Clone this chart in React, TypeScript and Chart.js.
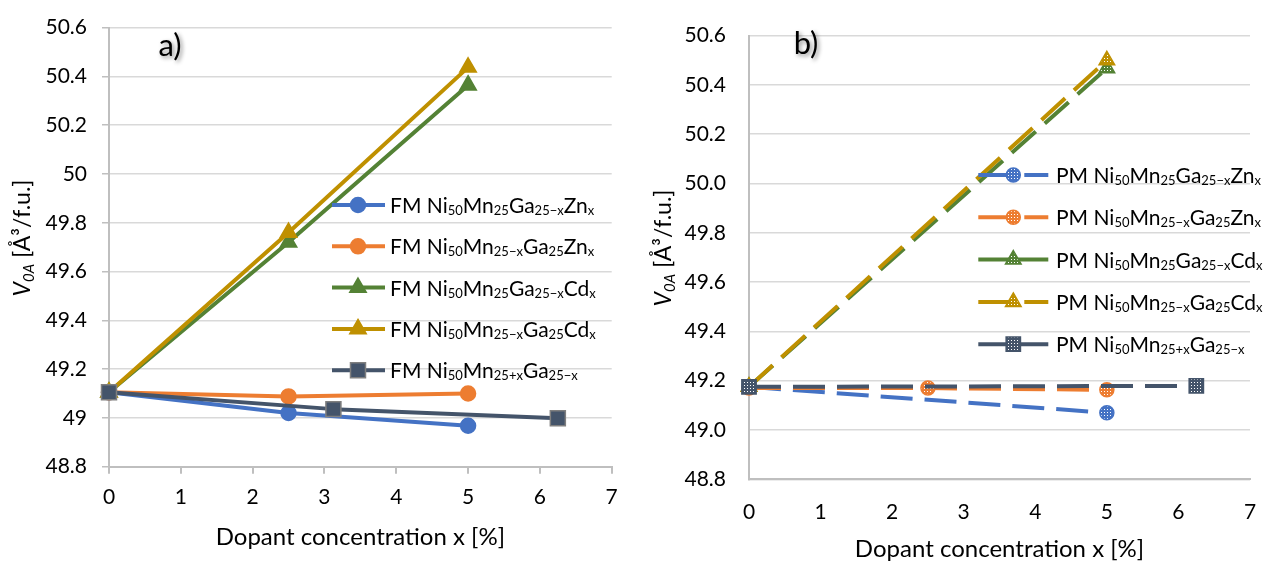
import React, { useEffect, useRef } from "react";
import { Chart, registerables } from "chart.js";
import { drawPoint } from "chart.js/helpers";

Chart.register(...registerables);

const FONT = "Lato";

// ---- axes ----
const X_TICKS = [0, 1, 2, 3, 4, 5, 6, 7];
const X_TICK_LABELS = ["0", "1", "2", "3", "4", "5", "6", "7"];
const Y_TICKS = [48.8, 49.0, 49.2, 49.4, 49.6, 49.8, 50.0, 50.2, 50.4, 50.6];
const Y_TICK_LABELS_FM = ["48.8", "49", "49.2", "49.4", "49.6", "49.8", "50", "50.2", "50.4", "50.6"];
const Y_TICK_LABELS_PM = ["48.8", "49.0", "49.2", "49.4", "49.6", "49.8", "50.0", "50.2", "50.4", "50.6"];
const X_TITLE = "Dopant concentration x [%]";

// ---- ferromagnetic (FM) series ----
const FM_LABELS = [
  "FM Ni_{50}Mn_{25}Ga_{25−x}Zn_{x}",
  "FM Ni_{50}Mn_{25−x}Ga_{25}Zn_{x}",
  "FM Ni_{50}Mn_{25}Ga_{25−x}Cd_{x}",
  "FM Ni_{50}Mn_{25−x}Ga_{25}Cd_{x}",
  "FM Ni_{50}Mn_{25+x}Ga_{25−x}",
];
const FM_GA_ZN_X = [0, 2.5, 5];
const FM_GA_ZN_V = [49.105, 49.02, 48.968];
const FM_MN_ZN_X = [0, 2.5, 5];
const FM_MN_ZN_V = [49.105, 49.088, 49.1];
const FM_GA_CD_X = [0, 2.5, 5];
const FM_GA_CD_V = [49.105, 49.72, 50.364];
const FM_MN_CD_X = [0, 2.5, 5];
const FM_MN_CD_V = [49.105, 49.76, 50.437];
const FM_MN_GA_X = [0, 3.125, 6.25];
const FM_MN_GA_V = [49.105, 49.036, 48.999];

// ---- paramagnetic (PM) series ----
const PM_LABELS = [
  "PM Ni_{50}Mn_{25}Ga_{25−x}Zn_{x}",
  "PM Ni_{50}Mn_{25−x}Ga_{25}Zn_{x}",
  "PM Ni_{50}Mn_{25}Ga_{25−x}Cd_{x}",
  "PM Ni_{50}Mn_{25−x}Ga_{25}Cd_{x}",
  "PM Ni_{50}Mn_{25+x}Ga_{25−x}",
];
const PM_GA_ZN_X = [0, 5];
const PM_GA_ZN_V = [49.175, 49.07];
const PM_MN_ZN_X = [0, 2.5, 5];
const PM_MN_ZN_V = [49.17, 49.17, 49.163];
const PM_GA_CD_X = [0, 5];
const PM_GA_CD_V = [49.175, 50.468];
const PM_MN_CD_X = [0, 5];
const PM_MN_CD_V = [49.175, 50.5];
const PM_MN_GA_X = [0, 6.25];
const PM_MN_GA_V = [49.175, 49.179];

const COLORS = ["#4472C4", "#ED7D31", "#548235", "#BF9000", "#44546A"];
const POINT_STYLES = ["circle", "circle", "triangle", "triangle", "rect"];
const POINT_RADII = [7.5, 7.5, 9.5, 9.5, 10.6];

type Part = { t: string; sub?: boolean; it?: boolean };

function parseRich(s: string): Part[] {
  const parts: Part[] = [];
  const re = /_\{([^}]*)\}/g;
  let last = 0;
  let m: RegExpExecArray | null;
  while ((m = re.exec(s))) {
    if (m.index > last) parts.push({ t: s.slice(last, m.index) });
    parts.push({ t: m[1], sub: true });
    last = re.lastIndex;
  }
  if (last < s.length) parts.push({ t: s.slice(last) });
  return parts;
}

function partFont(p: Part, size: number, subSize: number) {
  return `${p.it ? "italic " : ""}${p.sub ? subSize : size}px ${FONT}`;
}

function measureRich(ctx: CanvasRenderingContext2D, parts: Part[], size: number, subSize: number) {
  let w = 0;
  for (const p of parts) {
    ctx.font = partFont(p, size, subSize);
    w += ctx.measureText(p.t).width;
  }
  return w;
}

function drawRich(
  ctx: CanvasRenderingContext2D,
  parts: Part[],
  x: number,
  y: number,
  size: number,
  subSize: number,
  subDy: number
) {
  let cx = x;
  ctx.textAlign = "left";
  ctx.textBaseline = "alphabetic";
  for (const p of parts) {
    ctx.font = partFont(p, size, subSize);
    ctx.fillText(p.t, cx, p.sub ? y + subDy : y);
    cx += ctx.measureText(p.t).width;
  }
}

// small white-dot fill used for the PM markers
function dotPattern(color: string): CanvasPattern | string {
  const c = document.createElement("canvas");
  c.width = 3;
  c.height = 3;
  const g = c.getContext("2d");
  if (!g) return color;
  g.fillStyle = color;
  g.fillRect(0, 0, 3, 3);
  g.fillStyle = "#ffffff";
  g.fillRect(1, 1, 1, 1);
  return g.createPattern(c, "repeat") || color;
}

function makeDatasets(xs: number[][], vs: number[][], labels: string[], pm: boolean) {
  return xs.map((xArr, i) => ({
    label: labels[i],
    data: xArr.map((x, j) => ({ x, y: vs[i][j] })),
    borderColor: COLORS[i],
    backgroundColor: COLORS[i],
    borderWidth: 4,
    borderDash: pm ? [32, 12] : [],
    borderJoinStyle: "round",
    pointStyle: POINT_STYLES[i],
    pointRadius: pm ? POINT_RADII[i] - 0.5 : POINT_RADII[i],
    pointHoverRadius: POINT_RADII[i],
    pointBackgroundColor: pm ? dotPattern(COLORS[i]) : COLORS[i],
    pointBorderColor: !pm && i === 4 ? "#7F7F7F" : COLORS[i],
    pointBorderWidth: 1.5,
    order: 5 - i,
    clip: false,
    tension: 0,
  }));
}

const decorPlugin = {
  id: "decor",
  afterDraw(chart: any, _args: any, opts: any) {
    const ctx: CanvasRenderingContext2D = chart.ctx;
    const area = chart.chartArea;
    ctx.save();

    // legend entries: line sample, marker, rich text
    const lg = opts.legend;
    chart.data.datasets.forEach((ds: any, i: number) => {
      const y = lg.y0 + i * lg.dy;
      ctx.save();
      ctx.strokeStyle = ds.borderColor;
      ctx.lineWidth = ds.borderWidth;
      ctx.setLineDash(lg.dashes[i] || []);
      ctx.beginPath();
      ctx.moveTo(lg.x0, y);
      ctx.lineTo(lg.x1, y);
      ctx.stroke();
      ctx.setLineDash([]);
      ctx.fillStyle = ds.pointBackgroundColor;
      ctx.strokeStyle = ds.pointBorderColor;
      ctx.lineWidth = ds.pointBorderWidth;
      drawPoint(
        ctx,
        { pointStyle: ds.pointStyle, radius: ds.pointRadius, borderWidth: ds.pointBorderWidth, rotation: 0 } as any,
        lg.xm,
        y
      );
      ctx.restore();
      ctx.fillStyle = "#000";
      drawRich(ctx, parseRich(ds.label), lg.tx, y + 8, 21, 13, 2);
    });

    // panel tag
    ctx.save();
    ctx.font = `31px ${FONT}`;
    ctx.textAlign = "center";
    ctx.textBaseline = "middle";
    ctx.fillStyle = "#000";
    ctx.shadowColor = "rgba(0,0,0,0.45)";
    ctx.shadowBlur = 4;
    ctx.shadowOffsetX = 2;
    ctx.shadowOffsetY = 2;
    ctx.fillText(opts.tag.text, opts.tag.x, opts.tag.y);
    ctx.restore();

    // x-axis title
    ctx.font = `24px ${FONT}`;
    ctx.textAlign = "center";
    ctx.textBaseline = "middle";
    ctx.fillStyle = "#000";
    ctx.fillText(X_TITLE, (area.left + area.right) / 2, opts.xTitleY);

    // y-axis title with italic subscript
    const parts: Part[] = [
      { t: "V", it: true },
      { t: "0A", it: true, sub: true },
      { t: " [Å³/f.u.]" },
    ];
    const w = measureRich(ctx, parts, 23, 15);
    ctx.save();
    ctx.translate(opts.yTitle.x, opts.yTitle.y);
    ctx.rotate(-Math.PI / 2);
    ctx.fillStyle = "#000";
    drawRich(ctx, parts, -w / 2, 8, 23, 15, 4);
    ctx.restore();

    ctx.restore();
  },
};

type PanelSpec = {
  datasets: any[];
  yLabels: string[];
  drawTicks: boolean;
  padding: { left: number; top: number; right: number; bottom: number };
  yWidth: number;
  xHeight: number;
  yLabelPad: number;
  xLabelPad: number;
  decor: any;
};

function buildConfig(p: PanelSpec): any {
  return {
    type: "line",
    data: { datasets: p.datasets },
    plugins: [decorPlugin],
    options: {
      responsive: false,
      animation: false,
      events: [],
      layout: { padding: p.padding },
      plugins: {
        legend: { display: false },
        tooltip: { enabled: false },
        decor: p.decor,
      },
      scales: {
        x: {
          type: "linear",
          min: 0,
          max: 7,
          afterBuildTicks: (scale: any) => {
            scale.ticks = X_TICKS.map((value) => ({ value }));
          },
          afterFit: (scale: any) => {
            scale.height = p.xHeight;
          },
          ticks: {
            padding: p.xLabelPad,
            maxRotation: 0,
            autoSkip: false,
            color: "#000",
            font: { family: FONT, size: 21 },
            callback: (_v: any, i: number) => X_TICK_LABELS[i],
          },
          grid: {
            display: true,
            drawOnChartArea: false,
            drawTicks: p.drawTicks,
            tickLength: 7,
            color: "#BFBFBF",
            lineWidth: 2,
          },
          border: { display: true, color: "#BFBFBF", width: 2 },
        },
        y: {
          type: "linear",
          min: 48.8,
          max: 50.6,
          afterBuildTicks: (scale: any) => {
            scale.ticks = Y_TICKS.map((value) => ({ value }));
          },
          afterFit: (scale: any) => {
            scale.width = p.yWidth;
          },
          ticks: {
            padding: p.yLabelPad,
            autoSkip: false,
            color: "#000",
            font: { family: FONT, size: 21 },
            callback: (_v: any, i: number) => p.yLabels[i],
          },
          grid: {
            display: true,
            drawOnChartArea: true,
            drawTicks: p.drawTicks,
            tickLength: 7,
            color: "#D9D9D9",
            tickColor: "#BFBFBF",
            lineWidth: 1.5,
          },
          border: { display: true, color: "#BFBFBF", width: 2 },
        },
      },
    },
  };
}

const PANEL_FM: PanelSpec = {
  datasets: makeDatasets(
    [FM_GA_ZN_X, FM_MN_ZN_X, FM_GA_CD_X, FM_MN_CD_X, FM_MN_GA_X],
    [FM_GA_ZN_V, FM_MN_ZN_V, FM_GA_CD_V, FM_MN_CD_V, FM_MN_GA_V],
    FM_LABELS,
    false
  ),
  yLabels: Y_TICK_LABELS_FM,
  drawTicks: true,
  padding: { left: 0, top: 15.7, right: 29.3, bottom: 0 },
  yWidth: 109,
  xHeight: 97.3,
  yLabelPad: 15,
  xLabelPad: 11,
  decor: {
    legend: { x0: 332, x1: 385, xm: 358, tx: 390, y0: 205, dy: 41.3, dashes: [null, null, null, null, null] },
    tag: { text: "a)", x: 170, y: 46 },
    xTitleY: 537,
    yTitle: { x: 22, y: 238 },
  },
};

const PANEL_PM: PanelSpec = {
  datasets: makeDatasets(
    [PM_GA_ZN_X, PM_MN_ZN_X, PM_GA_CD_X, PM_MN_CD_X, PM_MN_GA_X],
    [PM_GA_ZN_V, PM_MN_ZN_V, PM_GA_CD_V, PM_MN_CD_V, PM_MN_GA_V],
    PM_LABELS,
    true
  ),
  yLabels: Y_TICK_LABELS_PM,
  drawTicks: false,
  padding: { left: 0, top: 16, right: 32, bottom: 0 },
  yWidth: 108,
  xHeight: 84.7,
  yLabelPad: 23,
  xLabelPad: 20,
  decor: {
    legend: {
      x0: 337.3,
      x1: 407.3,
      xm: 372.3,
      tx: 415,
      y0: 175,
      dy: 42.3,
      dashes: [[36, 10], [36, 10], null, [36, 10], null],
    },
    tag: { text: "b)", x: 165, y: 44 },
    xTitleY: 549,
    yTitle: { x: 22, y: 248 },
  },
};

function Panel({ spec, left }: { spec: PanelSpec; left: number }) {
  const ref = useRef<HTMLCanvasElement | null>(null);
  useEffect(() => {
    if (!ref.current) return;
    const chart = new Chart(ref.current, buildConfig(spec));
    return () => chart.destroy();
  }, [spec]);
  return (
    <div style={{ position: "absolute", left, top: 0, width: 641, height: 564 }}>
      <canvas ref={ref} width={641} height={564} style={{ display: "block" }} />
    </div>
  );
}

export default function App() {
  return (
    <div style={{ position: "absolute", left: 0, top: 0, width: 1282, height: 564, background: "#fff" }}>
      <Panel spec={PANEL_FM} left={0} />
      <Panel spec={PANEL_PM} left={641} />
    </div>
  );
}
